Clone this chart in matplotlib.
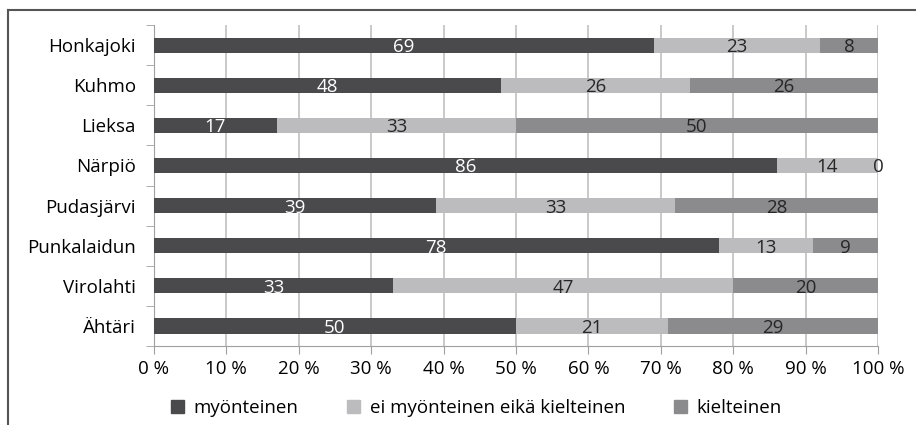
import matplotlib.pyplot as plt
from matplotlib.lines import Line2D
from matplotlib.patches import Patch

plt.rcParams['font.family'] = ['Open Sans', 'DejaVu Sans']

# Data
places = ['Honkajoki', 'Kuhmo', 'Lieksa', 'Närpiö', 'Pudasjärvi',
          'Punkalaidun', 'Virolahti', 'Ähtäri']
myonteinen = [69, 48, 17, 86, 39, 78, 33, 50]
ei_kumpikaan = [23, 26, 33, 14, 33, 13, 47, 21]
kielteinen = [8, 26, 50, 0, 28, 9, 20, 29]

series = [
    ('myönteinen', myonteinen, '#4a4a4c', 'white'),
    ('ei myönteinen eikä kielteinen', ei_kumpikaan, '#bcbcbe', '#262626'),
    ('kielteinen', kielteinen, '#8b8b8d', '#262626'),
]

fs = 13.5

fig = plt.figure(figsize=(9.16, 4.25), dpi=100)
ax = fig.add_axes([0.168, 0.186, 0.7905, 0.755])

y = list(range(len(places)))
left = [0] * len(places)
for name, vals, color, tcolor in series:
    ax.barh(y, vals, left=left, height=0.38, color=color, label=name, zorder=3)
    for yi, l, v in zip(y, left, vals):
        ax.text(l + v / 2, yi + 0.05, str(v), ha='center', va='center',
                color=tcolor, fontsize=fs, zorder=4)
    left = [a + b for a, b in zip(left, vals)]

ax.set_xlim(0, 100)
ax.set_ylim(len(places) - 0.5, -0.5)
ax.set_xticks(range(0, 101, 10))
ax.set_xticklabels([f'{v} %' for v in range(0, 101, 10)], fontsize=fs)
ax.set_yticks(y)
ax.set_yticklabels(places, fontsize=fs)
ax.tick_params(axis='y', length=0, pad=13)
ax.set_yticks([i - 0.5 for i in range(len(places) + 1)], minor=True)
ax.tick_params(axis='y', which='minor', length=6, color='#a0a0a0')
ax.tick_params(axis='x', length=6, color='#a0a0a0', pad=4)

ax.grid(axis='x', color='#c0c0c0', linewidth=1.2, zorder=0)
for s in ['top', 'right']:
    ax.spines[s].set_visible(False)
for s in ['left', 'bottom']:
    ax.spines[s].set_color('#a0a0a0')

handles = [Patch(color=c, label=n) for n, _, c, _ in series]
fig.legend(handles=handles, loc='center', bbox_to_anchor=(0.52, 0.04),
           ncol=3, frameon=False, fontsize=fs, handlelength=0.7,
           handleheight=0.7, handletextpad=0.5, columnspacing=2.6)

# outer frame (cut off on the right and bottom)
fig.add_artist(Line2D([8 / 916, 1], [1 - 10 / 425] * 2, color='#555555', lw=1.5))
fig.add_artist(Line2D([8 / 916] * 2, [0, 1 - 10 / 425], color='#555555', lw=1.5))

fig.savefig('out.png', dpi=100)
